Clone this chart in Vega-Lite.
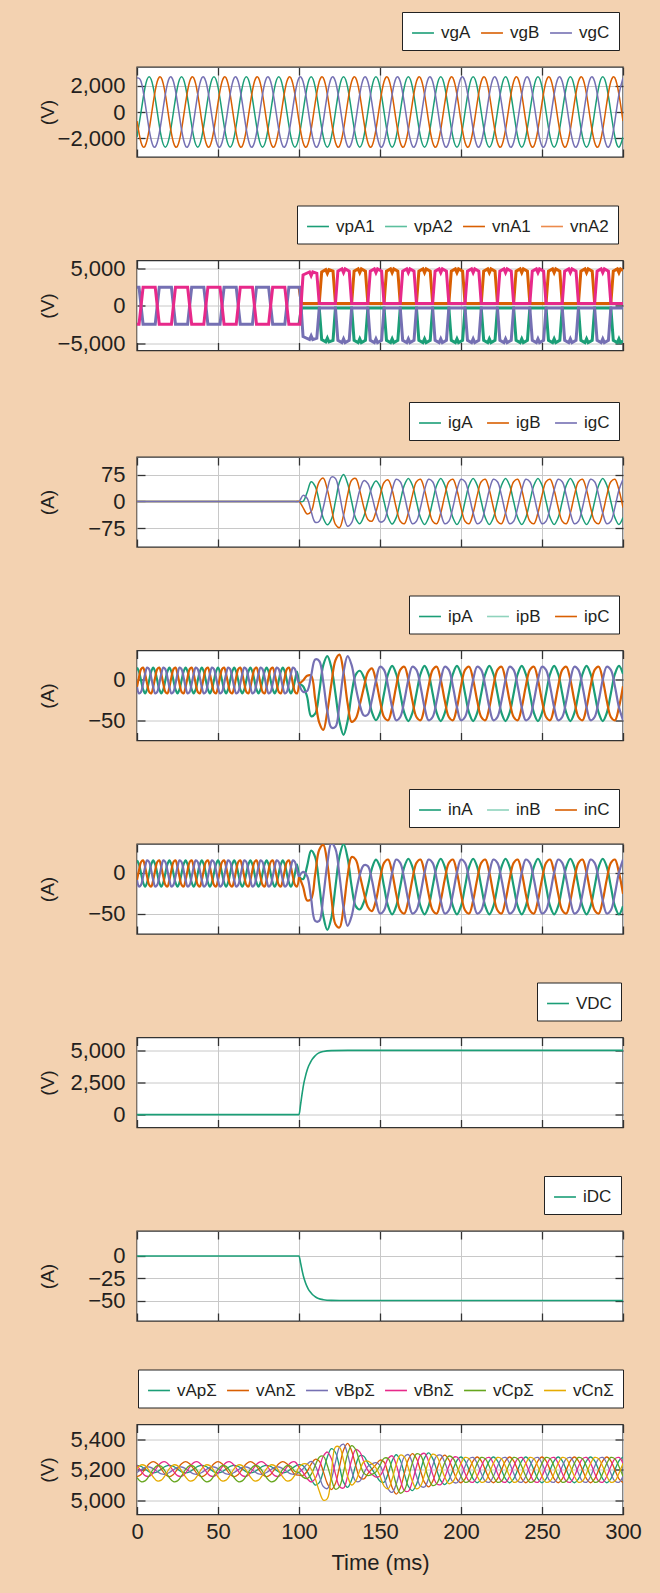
{
"$schema": "https://vega.github.io/schema/vega-lite/v6.json",
"background": "#F3D2B1",
"padding": {"left": 37, "top": 10, "right": 20, "bottom": 22},
"spacing": 44.5,
"resolve": {"scale": {"x": "independent", "y": "independent", "color": "independent"}, "legend": {"color": "independent"}},
"config": {
 "font": "Liberation Sans",
 "view": {"stroke": "#333333", "strokeWidth": 1.4, "fill": "#ffffff"},
 "axis": {"domain": false, "grid": true, "gridColor": "#c8c8c8", "gridWidth": 1, "ticks": true, "tickSize": -8, "tickColor": "#333333", "tickWidth": 1.3, "labelFont": "Liberation Sans", "labelFontSize": 22, "labelColor": "#231f20", "titleFont": "Liberation Sans", "titleFontSize": 19, "titleFontWeight": "normal", "titleColor": "#231f20", "labelFlush": false, "labelOverlap": false},
 "axisY": {"labelPadding": 20, "titleX": -90, "titleY": 45, "titleAngle": 270, "titleAlign": "center", "titleBaseline": "middle"},
 "axisX": {"labelPadding": 15, "titlePadding": 10},
 "legend": {"orient": "none", "direction": "horizontal", "columns": 6, "fillColor": "#ffffff", "strokeColor": "#222222", "padding": 9, "symbolType": "stroke", "symbolSize": 480, "symbolStrokeWidth": 1.6, "labelFont": "Liberation Sans", "labelFontSize": 17, "labelColor": "#231f20", "labelOffset": 6, "columnPadding": 6}
},
"datasets": {
 "pre": [
{"t":0,"a":15,"b":-9,"c":-9},{"t":1.25,"a":10,"b":3,"c":-17},{"t":2.5,"a":-1,"b":13,"c":-15},{"t":3.75,"a":-12,"b":15,"c":-5},{"t":5,"a":-17,"b":7,"c":7},{"t":6.25,"a":-12,"b":-5,"c":15},{"t":7.5,"a":-1,"b":-15,"c":13},{"t":8.75,"a":10,"b":-17,"c":3},
{"t":10,"a":15,"b":-9,"c":-9},{"t":11.25,"a":10,"b":3,"c":-17},{"t":12.5,"a":-1,"b":13,"c":-15},{"t":13.75,"a":-12,"b":15,"c":-5},{"t":15,"a":-17,"b":7,"c":7},{"t":16.25,"a":-12,"b":-5,"c":15},{"t":17.5,"a":-1,"b":-15,"c":13},{"t":18.75,"a":10,"b":-17,"c":3},
{"t":20,"a":15,"b":-9,"c":-9},{"t":21.25,"a":10,"b":3,"c":-17},{"t":22.5,"a":-1,"b":13,"c":-15},{"t":23.75,"a":-12,"b":15,"c":-5},{"t":25,"a":-17,"b":7,"c":7},{"t":26.25,"a":-12,"b":-5,"c":15},{"t":27.5,"a":-1,"b":-15,"c":13},{"t":28.75,"a":10,"b":-17,"c":3},
{"t":30,"a":15,"b":-9,"c":-9},{"t":31.25,"a":10,"b":3,"c":-17},{"t":32.5,"a":-1,"b":13,"c":-15},{"t":33.75,"a":-12,"b":15,"c":-5},{"t":35,"a":-17,"b":7,"c":7},{"t":36.25,"a":-12,"b":-5,"c":15},{"t":37.5,"a":-1,"b":-15,"c":13},{"t":38.75,"a":10,"b":-17,"c":3},
{"t":40,"a":15,"b":-9,"c":-9},{"t":41.25,"a":10,"b":3,"c":-17},{"t":42.5,"a":-1,"b":13,"c":-15},{"t":43.75,"a":-12,"b":15,"c":-5},{"t":45,"a":-17,"b":7,"c":7},{"t":46.25,"a":-12,"b":-5,"c":15},{"t":47.5,"a":-1,"b":-15,"c":13},{"t":48.75,"a":10,"b":-17,"c":3},
{"t":50,"a":15,"b":-9,"c":-9},{"t":51.25,"a":10,"b":3,"c":-17},{"t":52.5,"a":-1,"b":13,"c":-15},{"t":53.75,"a":-12,"b":15,"c":-5},{"t":55,"a":-17,"b":7,"c":7},{"t":56.25,"a":-12,"b":-5,"c":15},{"t":57.5,"a":-1,"b":-15,"c":13},{"t":58.75,"a":10,"b":-17,"c":3},
{"t":60,"a":15,"b":-9,"c":-9},{"t":61.25,"a":10,"b":3,"c":-17},{"t":62.5,"a":-1,"b":13,"c":-15},{"t":63.75,"a":-12,"b":15,"c":-5},{"t":65,"a":-17,"b":7,"c":7},{"t":66.25,"a":-12,"b":-5,"c":15},{"t":67.5,"a":-1,"b":-15,"c":13},{"t":68.75,"a":10,"b":-17,"c":3},
{"t":70,"a":15,"b":-9,"c":-9},{"t":71.25,"a":10,"b":3,"c":-17},{"t":72.5,"a":-1,"b":13,"c":-15},{"t":73.75,"a":-12,"b":15,"c":-5},{"t":75,"a":-17,"b":7,"c":7},{"t":76.25,"a":-12,"b":-5,"c":15},{"t":77.5,"a":-1,"b":-15,"c":13},{"t":78.75,"a":10,"b":-17,"c":3},
{"t":80,"a":15,"b":-9,"c":-9},{"t":81.25,"a":10,"b":3,"c":-17},{"t":82.5,"a":-1,"b":13,"c":-15},{"t":83.75,"a":-12,"b":15,"c":-5},{"t":85,"a":-17,"b":7,"c":7},{"t":86.25,"a":-12,"b":-5,"c":15},{"t":87.5,"a":-1,"b":-15,"c":13},{"t":88.75,"a":10,"b":-17,"c":3},
{"t":90,"a":15,"b":-9,"c":-9},{"t":91.25,"a":10,"b":3,"c":-17},{"t":92.5,"a":-1,"b":13,"c":-15},{"t":93.75,"a":-12,"b":15,"c":-5},{"t":95,"a":-17,"b":7,"c":7},{"t":96.25,"a":-12,"b":-5,"c":15},{"t":97.5,"a":-1,"b":-15,"c":13},{"t":98.75,"a":10,"b":-17,"c":3},
{"t":100,"a":-5,"b":-5,"c":-5}
 ]
},
"vconcat": [
{"width": 486, "height": 90, "resolve": {"axis": {"x": "independent", "y": "independent"}},
 "layer": [
  {"data": {"values": [
{"t":0,"a":-1909,"b":-699,"c":2608},{"t":2.5,"a":0,"b":-2338,"c":2338},{"t":5,"a":1909,"b":-2608,"c":699},{"t":7.5,"a":2700,"b":-1350,"c":-1350},{"t":10,"a":1909,"b":699,"c":-2608},{"t":12.5,"a":0,"b":2338,"c":-2338},{"t":15,"a":-1909,"b":2608,"c":-699},{"t":17.5,"a":-2700,"b":1350,"c":1350},
{"t":20,"a":-1909,"b":-699,"c":2608},{"t":22.5,"a":0,"b":-2338,"c":2338},{"t":25,"a":1909,"b":-2608,"c":699},{"t":27.5,"a":2700,"b":-1350,"c":-1350},{"t":30,"a":1909,"b":699,"c":-2608},{"t":32.5,"a":0,"b":2338,"c":-2338},{"t":35,"a":-1909,"b":2608,"c":-699},{"t":37.5,"a":-2700,"b":1350,"c":1350},
{"t":40,"a":-1909,"b":-699,"c":2608},{"t":42.5,"a":0,"b":-2338,"c":2338},{"t":45,"a":1909,"b":-2608,"c":699},{"t":47.5,"a":2700,"b":-1350,"c":-1350},{"t":50,"a":1909,"b":699,"c":-2608},{"t":52.5,"a":0,"b":2338,"c":-2338},{"t":55,"a":-1909,"b":2608,"c":-699},{"t":57.5,"a":-2700,"b":1350,"c":1350},
{"t":60,"a":-1909,"b":-699,"c":2608},{"t":62.5,"a":0,"b":-2338,"c":2338},{"t":65,"a":1909,"b":-2608,"c":699},{"t":67.5,"a":2700,"b":-1350,"c":-1350},{"t":70,"a":1909,"b":699,"c":-2608},{"t":72.5,"a":0,"b":2338,"c":-2338},{"t":75,"a":-1909,"b":2608,"c":-699},{"t":77.5,"a":-2700,"b":1350,"c":1350},
{"t":80,"a":-1909,"b":-699,"c":2608},{"t":82.5,"a":0,"b":-2338,"c":2338},{"t":85,"a":1909,"b":-2608,"c":699},{"t":87.5,"a":2700,"b":-1350,"c":-1350},{"t":90,"a":1909,"b":699,"c":-2608},{"t":92.5,"a":0,"b":2338,"c":-2338},{"t":95,"a":-1909,"b":2608,"c":-699},{"t":97.5,"a":-2700,"b":1350,"c":1350},
{"t":100,"a":-1909,"b":-699,"c":2608},{"t":102.5,"a":0,"b":-2338,"c":2338},{"t":105,"a":1909,"b":-2608,"c":699},{"t":107.5,"a":2700,"b":-1350,"c":-1350},{"t":110,"a":1909,"b":699,"c":-2608},{"t":112.5,"a":0,"b":2338,"c":-2338},{"t":115,"a":-1909,"b":2608,"c":-699},{"t":117.5,"a":-2700,"b":1350,"c":1350},
{"t":120,"a":-1909,"b":-699,"c":2608},{"t":122.5,"a":0,"b":-2338,"c":2338},{"t":125,"a":1909,"b":-2608,"c":699},{"t":127.5,"a":2700,"b":-1350,"c":-1350},{"t":130,"a":1909,"b":699,"c":-2608},{"t":132.5,"a":0,"b":2338,"c":-2338},{"t":135,"a":-1909,"b":2608,"c":-699},{"t":137.5,"a":-2700,"b":1350,"c":1350},
{"t":140,"a":-1909,"b":-699,"c":2608},{"t":142.5,"a":0,"b":-2338,"c":2338},{"t":145,"a":1909,"b":-2608,"c":699},{"t":147.5,"a":2700,"b":-1350,"c":-1350},{"t":150,"a":1909,"b":699,"c":-2608},{"t":152.5,"a":0,"b":2338,"c":-2338},{"t":155,"a":-1909,"b":2608,"c":-699},{"t":157.5,"a":-2700,"b":1350,"c":1350},
{"t":160,"a":-1909,"b":-699,"c":2608},{"t":162.5,"a":0,"b":-2338,"c":2338},{"t":165,"a":1909,"b":-2608,"c":699},{"t":167.5,"a":2700,"b":-1350,"c":-1350},{"t":170,"a":1909,"b":699,"c":-2608},{"t":172.5,"a":0,"b":2338,"c":-2338},{"t":175,"a":-1909,"b":2608,"c":-699},{"t":177.5,"a":-2700,"b":1350,"c":1350},
{"t":180,"a":-1909,"b":-699,"c":2608},{"t":182.5,"a":0,"b":-2338,"c":2338},{"t":185,"a":1909,"b":-2608,"c":699},{"t":187.5,"a":2700,"b":-1350,"c":-1350},{"t":190,"a":1909,"b":699,"c":-2608},{"t":192.5,"a":0,"b":2338,"c":-2338},{"t":195,"a":-1909,"b":2608,"c":-699},{"t":197.5,"a":-2700,"b":1350,"c":1350},
{"t":200,"a":-1909,"b":-699,"c":2608},{"t":202.5,"a":0,"b":-2338,"c":2338},{"t":205,"a":1909,"b":-2608,"c":699},{"t":207.5,"a":2700,"b":-1350,"c":-1350},{"t":210,"a":1909,"b":699,"c":-2608},{"t":212.5,"a":0,"b":2338,"c":-2338},{"t":215,"a":-1909,"b":2608,"c":-699},{"t":217.5,"a":-2700,"b":1350,"c":1350},
{"t":220,"a":-1909,"b":-699,"c":2608},{"t":222.5,"a":0,"b":-2338,"c":2338},{"t":225,"a":1909,"b":-2608,"c":699},{"t":227.5,"a":2700,"b":-1350,"c":-1350},{"t":230,"a":1909,"b":699,"c":-2608},{"t":232.5,"a":0,"b":2338,"c":-2338},{"t":235,"a":-1909,"b":2608,"c":-699},{"t":237.5,"a":-2700,"b":1350,"c":1350},
{"t":240,"a":-1909,"b":-699,"c":2608},{"t":242.5,"a":0,"b":-2338,"c":2338},{"t":245,"a":1909,"b":-2608,"c":699},{"t":247.5,"a":2700,"b":-1350,"c":-1350},{"t":250,"a":1909,"b":699,"c":-2608},{"t":252.5,"a":0,"b":2338,"c":-2338},{"t":255,"a":-1909,"b":2608,"c":-699},{"t":257.5,"a":-2700,"b":1350,"c":1350},
{"t":260,"a":-1909,"b":-699,"c":2608},{"t":262.5,"a":0,"b":-2338,"c":2338},{"t":265,"a":1909,"b":-2608,"c":699},{"t":267.5,"a":2700,"b":-1350,"c":-1350},{"t":270,"a":1909,"b":699,"c":-2608},{"t":272.5,"a":0,"b":2338,"c":-2338},{"t":275,"a":-1909,"b":2608,"c":-699},{"t":277.5,"a":-2700,"b":1350,"c":1350},
{"t":280,"a":-1909,"b":-699,"c":2608},{"t":282.5,"a":0,"b":-2338,"c":2338},{"t":285,"a":1909,"b":-2608,"c":699},{"t":287.5,"a":2700,"b":-1350,"c":-1350},{"t":290,"a":1909,"b":699,"c":-2608},{"t":292.5,"a":0,"b":2338,"c":-2338},{"t":295,"a":-1909,"b":2608,"c":-699},{"t":297.5,"a":-2700,"b":1350,"c":1350},
{"t":300,"a":-1909,"b":-699,"c":2608}
  ]},
   "transform": [{"fold": ["a", "b", "c"], "as": ["k", "v"]}],
   "mark": {"type": "line", "interpolate": "natural", "strokeWidth": 1.5, "clip": true},
   "encoding": {
    "x": {"field": "t", "type": "quantitative", "scale": {"domain": [0, 300], "nice": false}, "axis": {"values": [0, 50, 100, 150, 200, 250, 300], "labels": false, "title": null}},
    "y": {"field": "v", "type": "quantitative", "scale": {"domain": [-3450, 3450], "nice": false, "zero": false}, "axis": {"values": [-2000, 0, 2000], "format": ",d", "title": "(V)"}},
    "color": {"field": "k", "type": "nominal", "scale": {"domain": ["a", "b", "c"], "range": ["#1b9e77", "#d95f02", "#7570b3"]}, "legend": {"title": null, "legendX": 265, "legendY": -55, "labelExpr": "{'a':'vgA','b':'vgB','c':'vgC'}[datum.label]"}}
   }},
  {"data": {"values": [{"t": 150, "v": 0}]}, "mark": {"type": "point", "opacity": 0},
   "encoding": {
    "x": {"field": "t", "type": "quantitative", "scale": {"domain": [0, 300], "nice": false}, "axis": {"orient": "top", "values": [0, 50, 100, 150, 200, 250, 300], "labels": false, "grid": false, "title": null}},
    "y": {"field": "v", "type": "quantitative", "scale": {"domain": [-3450, 3450], "nice": false, "zero": false}, "axis": {"orient": "right", "values": [-2000, 0, 2000], "labels": false, "grid": false, "title": null}}
   }}
 ]},
{"width": 486, "height": 90, "resolve": {"axis": {"x": "independent", "y": "independent"}},
 "layer": [
  {"data": {"values": [
{"t":100,"c":2450,"a":-2450},{"t":101.5,"c":300,"a":-300},{"t":112.5,"c":300,"a":-300},
{"t":114,"c":4500,"a":-4500},{"t":116.5,"c":4800,"a":-4800},{"t":117.5,"c":4300,"a":-4300},{"t":118.5,"c":4800,"a":-4800},{"t":121,"c":4600,"a":-4600},{"t":122.5,"c":300,"a":-300},
{"t":132.5,"c":300,"a":-300},{"t":134,"c":4600,"a":-4600},{"t":136.5,"c":4900,"a":-4900},{"t":137.5,"c":4400,"a":-4400},{"t":138.5,"c":4900,"a":-4900},{"t":141,"c":4600,"a":-4600},{"t":142.5,"c":300,"a":-300},
{"t":152.5,"c":300,"a":-300},{"t":154,"c":4600,"a":-4600},{"t":156.5,"c":4900,"a":-4900},{"t":157.5,"c":4400,"a":-4400},{"t":158.5,"c":4900,"a":-4900},{"t":161,"c":4600,"a":-4600},{"t":162.5,"c":300,"a":-300},
{"t":172.5,"c":300,"a":-300},{"t":174,"c":4600,"a":-4600},{"t":176.5,"c":4900,"a":-4900},{"t":177.5,"c":4400,"a":-4400},{"t":178.5,"c":4900,"a":-4900},{"t":181,"c":4600,"a":-4600},{"t":182.5,"c":300,"a":-300},
{"t":192.5,"c":300,"a":-300},{"t":194,"c":4600,"a":-4600},{"t":196.5,"c":4900,"a":-4900},{"t":197.5,"c":4400,"a":-4400},{"t":198.5,"c":4900,"a":-4900},{"t":201,"c":4600,"a":-4600},{"t":202.5,"c":300,"a":-300},
{"t":212.5,"c":300,"a":-300},{"t":214,"c":4600,"a":-4600},{"t":216.5,"c":4900,"a":-4900},{"t":217.5,"c":4400,"a":-4400},{"t":218.5,"c":4900,"a":-4900},{"t":221,"c":4600,"a":-4600},{"t":222.5,"c":300,"a":-300},
{"t":232.5,"c":300,"a":-300},{"t":234,"c":4600,"a":-4600},{"t":236.5,"c":4900,"a":-4900},{"t":237.5,"c":4400,"a":-4400},{"t":238.5,"c":4900,"a":-4900},{"t":241,"c":4600,"a":-4600},{"t":242.5,"c":300,"a":-300},
{"t":252.5,"c":300,"a":-300},{"t":254,"c":4600,"a":-4600},{"t":256.5,"c":4900,"a":-4900},{"t":257.5,"c":4400,"a":-4400},{"t":258.5,"c":4900,"a":-4900},{"t":261,"c":4600,"a":-4600},{"t":262.5,"c":300,"a":-300},
{"t":272.5,"c":300,"a":-300},{"t":274,"c":4600,"a":-4600},{"t":276.5,"c":4900,"a":-4900},{"t":277.5,"c":4400,"a":-4400},{"t":278.5,"c":4900,"a":-4900},{"t":281,"c":4600,"a":-4600},{"t":282.5,"c":300,"a":-300},
{"t":292.5,"c":300,"a":-300},{"t":294,"c":4600,"a":-4600},{"t":296.5,"c":4900,"a":-4900},{"t":297.5,"c":4400,"a":-4400},{"t":298.5,"c":4900,"a":-4900},{"t":300,"c":4700,"a":-4700}
  ]},
   "transform": [{"fold": ["a", "c"], "as": ["k", "v"]}],
   "mark": {"type": "line", "strokeWidth": 3, "clip": true},
   "encoding": {
    "x": {"field": "t", "type": "quantitative", "scale": {"domain": [0, 300], "nice": false}, "axis": {"values": [0, 50, 100, 150, 200, 250, 300], "labels": false, "title": null}},
    "y": {"field": "v", "type": "quantitative", "scale": {"domain": [-5950, 6020], "nice": false, "zero": false}, "axis": {"values": [-5000, 0, 5000], "format": ",d", "title": "(V)"}},
    "color": {"field": "k", "type": "nominal", "scale": {"domain": ["a", "b", "c", "d", "e", "f"], "range": ["#1b9e77", "#5cbf9e", "#d95f02", "#ec8a4c", "#7570b3", "#e7298a"]}, "legend": {"title": null, "values": ["a", "b", "c", "d"], "legendX": 160, "legendY": -55, "symbolStrokeWidth": 1.6, "labelExpr": "{'a':'vpA1','b':'vpA2','c':'vnA1','d':'vnA2'}[datum.label]"}}
   }},
  {"data": {"values": [
{"t":0,"f":-2450,"e":2450},{"t":1.25,"f":-2450,"e":2450},{"t":3.75,"f":2450,"e":-2450},{"t":11.25,"f":2450,"e":-2450},{"t":13.75,"f":-2450,"e":2450},
{"t":21.25,"f":-2450,"e":2450},{"t":23.75,"f":2450,"e":-2450},{"t":31.25,"f":2450,"e":-2450},{"t":33.75,"f":-2450,"e":2450},
{"t":41.25,"f":-2450,"e":2450},{"t":43.75,"f":2450,"e":-2450},{"t":51.25,"f":2450,"e":-2450},{"t":53.75,"f":-2450,"e":2450},
{"t":61.25,"f":-2450,"e":2450},{"t":63.75,"f":2450,"e":-2450},{"t":71.25,"f":2450,"e":-2450},{"t":73.75,"f":-2450,"e":2450},
{"t":81.25,"f":-2450,"e":2450},{"t":83.75,"f":2450,"e":-2450},{"t":91.25,"f":2450,"e":-2450},{"t":93.75,"f":-2450,"e":2450},
{"t":100.5,"f":-2450,"e":2450},{"t":102.5,"f":4100,"e":-4100},{"t":106.5,"f":4500,"e":-4500},{"t":107.5,"f":4000,"e":-4000},{"t":108.5,"f":4500,"e":-4500},{"t":111,"f":4300,"e":-4300},{"t":112.5,"f":300,"e":-300},
{"t":122.5,"f":300,"e":-300},{"t":124,"f":4600,"e":-4600},{"t":126.5,"f":4900,"e":-4900},{"t":127.5,"f":4400,"e":-4400},{"t":128.5,"f":4900,"e":-4900},{"t":131,"f":4600,"e":-4600},{"t":132.5,"f":300,"e":-300},
{"t":142.5,"f":300,"e":-300},{"t":144,"f":4600,"e":-4600},{"t":146.5,"f":4900,"e":-4900},{"t":147.5,"f":4400,"e":-4400},{"t":148.5,"f":4900,"e":-4900},{"t":151,"f":4600,"e":-4600},{"t":152.5,"f":300,"e":-300},
{"t":162.5,"f":300,"e":-300},{"t":164,"f":4600,"e":-4600},{"t":166.5,"f":4900,"e":-4900},{"t":167.5,"f":4400,"e":-4400},{"t":168.5,"f":4900,"e":-4900},{"t":171,"f":4600,"e":-4600},{"t":172.5,"f":300,"e":-300},
{"t":182.5,"f":300,"e":-300},{"t":184,"f":4600,"e":-4600},{"t":186.5,"f":4900,"e":-4900},{"t":187.5,"f":4400,"e":-4400},{"t":188.5,"f":4900,"e":-4900},{"t":191,"f":4600,"e":-4600},{"t":192.5,"f":300,"e":-300},
{"t":202.5,"f":300,"e":-300},{"t":204,"f":4600,"e":-4600},{"t":206.5,"f":4900,"e":-4900},{"t":207.5,"f":4400,"e":-4400},{"t":208.5,"f":4900,"e":-4900},{"t":211,"f":4600,"e":-4600},{"t":212.5,"f":300,"e":-300},
{"t":222.5,"f":300,"e":-300},{"t":224,"f":4600,"e":-4600},{"t":226.5,"f":4900,"e":-4900},{"t":227.5,"f":4400,"e":-4400},{"t":228.5,"f":4900,"e":-4900},{"t":231,"f":4600,"e":-4600},{"t":232.5,"f":300,"e":-300},
{"t":242.5,"f":300,"e":-300},{"t":244,"f":4600,"e":-4600},{"t":246.5,"f":4900,"e":-4900},{"t":247.5,"f":4400,"e":-4400},{"t":248.5,"f":4900,"e":-4900},{"t":251,"f":4600,"e":-4600},{"t":252.5,"f":300,"e":-300},
{"t":262.5,"f":300,"e":-300},{"t":264,"f":4600,"e":-4600},{"t":266.5,"f":4900,"e":-4900},{"t":267.5,"f":4400,"e":-4400},{"t":268.5,"f":4900,"e":-4900},{"t":271,"f":4600,"e":-4600},{"t":272.5,"f":300,"e":-300},
{"t":282.5,"f":300,"e":-300},{"t":284,"f":4600,"e":-4600},{"t":286.5,"f":4900,"e":-4900},{"t":287.5,"f":4400,"e":-4400},{"t":288.5,"f":4900,"e":-4900},{"t":291,"f":4600,"e":-4600},{"t":292.5,"f":300,"e":-300},
{"t":300,"f":300,"e":-300}
  ]},
   "transform": [{"fold": ["e", "f"], "as": ["k", "v"]}],
   "mark": {"type": "line", "strokeWidth": 3, "clip": true},
   "encoding": {
    "x": {"field": "t", "type": "quantitative", "scale": {"domain": [0, 300], "nice": false}, "axis": null},
    "y": {"field": "v", "type": "quantitative", "scale": {"domain": [-5950, 6020], "nice": false, "zero": false}, "axis": null},
    "color": {"field": "k", "type": "nominal", "scale": {"domain": ["a", "b", "c", "d", "e", "f"], "range": ["#1b9e77", "#5cbf9e", "#d95f02", "#ec8a4c", "#7570b3", "#e7298a"]}, "legend": {"title": null, "values": ["a", "b", "c", "d"], "legendX": 160, "legendY": -55, "symbolStrokeWidth": 1.6, "labelExpr": "{'a':'vpA1','b':'vpA2','c':'vnA1','d':'vnA2'}[datum.label]"}}
   }},
  {"data": {"values": [{"t": 150, "v": 0}]}, "mark": {"type": "point", "opacity": 0},
   "encoding": {
    "x": {"field": "t", "type": "quantitative", "scale": {"domain": [0, 300], "nice": false}, "axis": {"orient": "top", "values": [0, 50, 100, 150, 200, 250, 300], "labels": false, "grid": false, "title": null}},
    "y": {"field": "v", "type": "quantitative", "scale": {"domain": [-5950, 6020], "nice": false, "zero": false}, "axis": {"orient": "right", "values": [-5000, 0, 5000], "labels": false, "grid": false, "title": null}}
   }}
 ]},
{"width": 486, "height": 90, "resolve": {"axis": {"x": "independent", "y": "independent"}},
 "layer": [
  {"data": {"values": [
{"t":0,"a":0,"b":0,"c":0},{"t":97.5,"a":0,"b":0,"c":0},{"t":100,"a":0,"b":0,"c":0},
{"t":102.5,"a":0,"b":-17,"c":17},{"t":105,"a":25,"b":-35,"c":9},{"t":107.5,"a":55,"b":-28,"c":-28},{"t":110,"a":42,"b":16,"c":-58},{"t":112.5,"a":0,"b":55,"c":-55},{"t":115,"a":-47,"b":65,"c":-17},{"t":117.5,"a":-65,"b":33,"c":33},
{"t":120,"a":-50,"b":-18,"c":68},{"t":122.5,"a":0,"b":-64,"c":64},{"t":125,"a":54,"b":-73,"c":20},{"t":127.5,"a":75,"b":-38,"c":-38},{"t":130,"a":50,"b":18,"c":-69},{"t":132.5,"a":0,"b":59,"c":-59},{"t":135,"a":-47,"b":64,"c":-17},{"t":137.5,"a":-62,"b":31,"c":31},
{"t":140,"a":-42,"b":-16,"c":58},{"t":142.5,"a":0,"b":-50,"c":50},{"t":145,"a":40,"b":-55,"c":15},{"t":147.5,"a":57,"b":-29,"c":-29},{"t":150,"a":42,"b":15,"c":-57},{"t":152.5,"a":0,"b":53,"c":-53},{"t":155,"a":-44,"b":60,"c":-16},{"t":157.5,"a":-63,"b":32,"c":32},
{"t":160,"a":-45,"b":-17,"c":62},{"t":162.5,"a":0,"b":-55,"c":55},{"t":165,"a":45,"b":-62,"c":17},{"t":167.5,"a":64,"b":-32,"c":-32},{"t":170,"a":45,"b":17,"c":-62},{"t":172.5,"a":0,"b":55,"c":-55},{"t":175,"a":-45,"b":62,"c":-17},{"t":177.5,"a":-64,"b":32,"c":32},
{"t":180,"a":-45,"b":-17,"c":62},{"t":182.5,"a":0,"b":-55,"c":55},{"t":185,"a":45,"b":-62,"c":17},{"t":187.5,"a":64,"b":-32,"c":-32},{"t":190,"a":45,"b":17,"c":-62},{"t":192.5,"a":0,"b":55,"c":-55},{"t":195,"a":-45,"b":62,"c":-17},{"t":197.5,"a":-64,"b":32,"c":32},
{"t":200,"a":-45,"b":-17,"c":62},{"t":202.5,"a":0,"b":-55,"c":55},{"t":205,"a":45,"b":-62,"c":17},{"t":207.5,"a":64,"b":-32,"c":-32},{"t":210,"a":45,"b":17,"c":-62},{"t":212.5,"a":0,"b":55,"c":-55},{"t":215,"a":-45,"b":62,"c":-17},{"t":217.5,"a":-64,"b":32,"c":32},
{"t":220,"a":-45,"b":-17,"c":62},{"t":222.5,"a":0,"b":-55,"c":55},{"t":225,"a":45,"b":-62,"c":17},{"t":227.5,"a":64,"b":-32,"c":-32},{"t":230,"a":45,"b":17,"c":-62},{"t":232.5,"a":0,"b":55,"c":-55},{"t":235,"a":-45,"b":62,"c":-17},{"t":237.5,"a":-64,"b":32,"c":32},
{"t":240,"a":-45,"b":-17,"c":62},{"t":242.5,"a":0,"b":-55,"c":55},{"t":245,"a":45,"b":-62,"c":17},{"t":247.5,"a":64,"b":-32,"c":-32},{"t":250,"a":45,"b":17,"c":-62},{"t":252.5,"a":0,"b":55,"c":-55},{"t":255,"a":-45,"b":62,"c":-17},{"t":257.5,"a":-64,"b":32,"c":32},
{"t":260,"a":-45,"b":-17,"c":62},{"t":262.5,"a":0,"b":-55,"c":55},{"t":265,"a":45,"b":-62,"c":17},{"t":267.5,"a":64,"b":-32,"c":-32},{"t":270,"a":45,"b":17,"c":-62},{"t":272.5,"a":0,"b":55,"c":-55},{"t":275,"a":-45,"b":62,"c":-17},{"t":277.5,"a":-64,"b":32,"c":32},
{"t":280,"a":-45,"b":-17,"c":62},{"t":282.5,"a":0,"b":-55,"c":55},{"t":285,"a":45,"b":-62,"c":17},{"t":287.5,"a":64,"b":-32,"c":-32},{"t":290,"a":45,"b":17,"c":-62},{"t":292.5,"a":0,"b":55,"c":-55},{"t":295,"a":-45,"b":62,"c":-17},{"t":297.5,"a":-64,"b":32,"c":32},
{"t":300,"a":-45,"b":-17,"c":62}
  ]},
   "transform": [{"fold": ["a", "b", "c"], "as": ["k", "v"]}],
   "mark": {"type": "line", "interpolate": "catmull-rom", "strokeWidth": 1.5, "clip": true},
   "encoding": {
    "x": {"field": "t", "type": "quantitative", "scale": {"domain": [0, 300], "nice": false}, "axis": {"values": [0, 50, 100, 150, 200, 250, 300], "labels": false, "title": null}},
    "y": {"field": "v", "type": "quantitative", "scale": {"domain": [-127, 124], "nice": false, "zero": false}, "axis": {"values": [-75, 0, 75], "format": ",d", "title": "(A)"}},
    "color": {"field": "k", "type": "nominal", "scale": {"domain": ["a", "b", "c"], "range": ["#1b9e77", "#d95f02", "#7570b3"]}, "legend": {"title": null, "legendX": 272, "legendY": -55, "columnPadding": 10, "labelExpr": "{'a':'igA','b':'igB','c':'igC'}[datum.label]"}}
   }},
  {"data": {"values": [{"t": 150, "v": 0}]}, "mark": {"type": "point", "opacity": 0},
   "encoding": {
    "x": {"field": "t", "type": "quantitative", "scale": {"domain": [0, 300], "nice": false}, "axis": {"orient": "top", "values": [0, 50, 100, 150, 200, 250, 300], "labels": false, "grid": false, "title": null}},
    "y": {"field": "v", "type": "quantitative", "scale": {"domain": [-127, 124], "nice": false, "zero": false}, "axis": {"orient": "right", "values": [-75, 0, 75], "labels": false, "grid": false, "title": null}}
   }}
 ]},
{"width": 486, "height": 90, "resolve": {"axis": {"x": "independent", "y": "independent"}},
 "layer": [
  {"data": {"name": "pre"},
   "transform": [{"fold": ["a", "b", "c"], "as": ["k", "v"]}],
   "mark": {"type": "line", "interpolate": "catmull-rom", "strokeWidth": 2.2, "clip": true},
   "encoding": {
    "x": {"field": "t", "type": "quantitative", "scale": {"domain": [0, 300], "nice": false}, "axis": {"values": [0, 50, 100, 150, 200, 250, 300], "labels": false, "title": null}},
    "y": {"field": "v", "type": "quantitative", "scale": {"domain": [-75, 36], "nice": false, "zero": false}, "axis": {"values": [-50, 0], "format": ",d", "title": "(A)"}},
    "color": {"field": "k", "type": "nominal", "scale": {"domain": ["a", "z", "b", "c"], "range": ["#1b9e77", "#8fd3bd", "#d95f02", "#7570b3"]}, "legend": {"title": null, "values": ["a", "z", "b"], "legendX": 272, "legendY": -55, "columnPadding": 10, "symbolStrokeWidth": 1.6, "labelExpr": "{'a':'ipA','z':'ipB','b':'ipC'}[datum.label]"}}
   }},
  {"data": {"values": [
{"t":100,"a":-5,"b":-5,"c":-5},{"t":102.5,"a":-8,"b":-1,"c":-15},{"t":105,"a":-21,"b":5,"c":-14},{"t":107.5,"a":-45,"b":5,"c":5},{"t":110,"a":-42,"b":-24,"c":25},{"t":112.5,"a":-15,"b":-53,"c":23},{"t":115,"a":18,"b":-62,"c":-3},{"t":117.5,"a":29,"b":-39,"c":-39},
{"t":120,"a":15,"b":-5,"c":-59},{"t":122.5,"a":-17,"b":24,"c":-58},{"t":125,"a":-52,"b":31,"c":-30},{"t":127.5,"a":-68,"b":9,"c":9},{"t":130,"a":-51,"b":-29,"c":29},{"t":132.5,"a":-17,"b":-52,"c":18},{"t":135,"a":6,"b":-48,"c":-9},{"t":137.5,"a":11,"b":-31,"c":-31},
{"t":140,"a":3,"b":-10,"c":-44},{"t":142.5,"a":-17,"b":9,"c":-43},{"t":145,"a":-40,"b":14,"c":-25},{"t":147.5,"a":-50,"b":-1,"c":-1},{"t":150,"a":-41,"b":-26,"c":16},{"t":152.5,"a":-17,"b":-46,"c":12},{"t":155,"a":7,"b":-50,"c":-8},{"t":157.5,"a":17,"b":-34,"c":-34},
{"t":160,"a":7,"b":-8,"c":-50},{"t":162.5,"a":-17,"b":12,"c":-46},{"t":165,"a":-41,"b":16,"c":-26},{"t":167.5,"a":-51,"b":0,"c":0},{"t":170,"a":-41,"b":-26,"c":16},{"t":172.5,"a":-17,"b":-46,"c":12},{"t":175,"a":7,"b":-50,"c":-8},{"t":177.5,"a":17,"b":-34,"c":-34},
{"t":180,"a":7,"b":-8,"c":-50},{"t":182.5,"a":-17,"b":12,"c":-46},{"t":185,"a":-41,"b":16,"c":-26},{"t":187.5,"a":-51,"b":0,"c":0},{"t":190,"a":-41,"b":-26,"c":16},{"t":192.5,"a":-17,"b":-46,"c":12},{"t":195,"a":7,"b":-50,"c":-8},{"t":197.5,"a":17,"b":-34,"c":-34},
{"t":200,"a":7,"b":-8,"c":-50},{"t":202.5,"a":-17,"b":12,"c":-46},{"t":205,"a":-41,"b":16,"c":-26},{"t":207.5,"a":-51,"b":0,"c":0},{"t":210,"a":-41,"b":-26,"c":16},{"t":212.5,"a":-17,"b":-46,"c":12},{"t":215,"a":7,"b":-50,"c":-8},{"t":217.5,"a":17,"b":-34,"c":-34},
{"t":220,"a":7,"b":-8,"c":-50},{"t":222.5,"a":-17,"b":12,"c":-46},{"t":225,"a":-41,"b":16,"c":-26},{"t":227.5,"a":-51,"b":0,"c":0},{"t":230,"a":-41,"b":-26,"c":16},{"t":232.5,"a":-17,"b":-46,"c":12},{"t":235,"a":7,"b":-50,"c":-8},{"t":237.5,"a":17,"b":-34,"c":-34},
{"t":240,"a":7,"b":-8,"c":-50},{"t":242.5,"a":-17,"b":12,"c":-46},{"t":245,"a":-41,"b":16,"c":-26},{"t":247.5,"a":-51,"b":0,"c":0},{"t":250,"a":-41,"b":-26,"c":16},{"t":252.5,"a":-17,"b":-46,"c":12},{"t":255,"a":7,"b":-50,"c":-8},{"t":257.5,"a":17,"b":-34,"c":-34},
{"t":260,"a":7,"b":-8,"c":-50},{"t":262.5,"a":-17,"b":12,"c":-46},{"t":265,"a":-41,"b":16,"c":-26},{"t":267.5,"a":-51,"b":0,"c":0},{"t":270,"a":-41,"b":-26,"c":16},{"t":272.5,"a":-17,"b":-46,"c":12},{"t":275,"a":7,"b":-50,"c":-8},{"t":277.5,"a":17,"b":-34,"c":-34},
{"t":280,"a":7,"b":-8,"c":-50},{"t":282.5,"a":-17,"b":12,"c":-46},{"t":285,"a":-41,"b":16,"c":-26},{"t":287.5,"a":-51,"b":0,"c":0},{"t":290,"a":-41,"b":-26,"c":16},{"t":292.5,"a":-17,"b":-46,"c":12},{"t":295,"a":7,"b":-50,"c":-8},{"t":297.5,"a":17,"b":-34,"c":-34},
{"t":300,"a":7,"b":-8,"c":-50}
  ]},
   "transform": [{"fold": ["a", "b", "c"], "as": ["k", "v"]}],
   "mark": {"type": "line", "interpolate": "catmull-rom", "strokeWidth": 2.2, "clip": true},
   "encoding": {
    "x": {"field": "t", "type": "quantitative", "scale": {"domain": [0, 300], "nice": false}, "axis": null},
    "y": {"field": "v", "type": "quantitative", "scale": {"domain": [-75, 36], "nice": false, "zero": false}, "axis": null},
    "color": {"field": "k", "type": "nominal", "scale": {"domain": ["a", "z", "b", "c"], "range": ["#1b9e77", "#8fd3bd", "#d95f02", "#7570b3"]}, "legend": {"title": null, "values": ["a", "z", "b"], "legendX": 272, "legendY": -55, "columnPadding": 10, "symbolStrokeWidth": 1.6, "labelExpr": "{'a':'ipA','z':'ipB','b':'ipC'}[datum.label]"}}
   }},
  {"data": {"values": [{"t": 150, "v": -20}]}, "mark": {"type": "point", "opacity": 0},
   "encoding": {
    "x": {"field": "t", "type": "quantitative", "scale": {"domain": [0, 300], "nice": false}, "axis": {"orient": "top", "values": [0, 50, 100, 150, 200, 250, 300], "labels": false, "grid": false, "title": null}},
    "y": {"field": "v", "type": "quantitative", "scale": {"domain": [-75, 36], "nice": false, "zero": false}, "axis": {"orient": "right", "values": [-50, 0], "labels": false, "grid": false, "title": null}}
   }}
 ]},
{"width": 486, "height": 90, "resolve": {"axis": {"x": "independent", "y": "independent"}},
 "layer": [
  {"data": {"name": "pre"},
   "transform": [{"fold": ["a", "b", "c"], "as": ["k", "v"]}],
   "mark": {"type": "line", "interpolate": "catmull-rom", "strokeWidth": 2.2, "clip": true},
   "encoding": {
    "x": {"field": "t", "type": "quantitative", "scale": {"domain": [0, 300], "nice": false}, "axis": {"values": [0, 50, 100, 150, 200, 250, 300], "labels": false, "title": null}},
    "y": {"field": "v", "type": "quantitative", "scale": {"domain": [-75, 35], "nice": false, "zero": false}, "axis": {"values": [-50, 0], "format": ",d", "title": "(A)"}},
    "color": {"field": "k", "type": "nominal", "scale": {"domain": ["a", "z", "b", "c"], "range": ["#1b9e77", "#8fd3bd", "#d95f02", "#7570b3"]}, "legend": {"title": null, "values": ["a", "z", "b"], "legendX": 272, "legendY": -55, "columnPadding": 10, "symbolStrokeWidth": 1.6, "labelExpr": "{'a':'inA','z':'inB','b':'inC'}[datum.label]"}}
   }},
  {"data": {"values": [
{"t":100,"a":-5,"b":-5,"c":-5},{"t":102.5,"a":-8,"b":-17,"c":1},{"t":105,"a":8,"b":-34,"c":-4},{"t":107.5,"a":27,"b":-32,"c":-32},{"t":110,"a":19,"b":-2,"c":-59},{"t":112.5,"a":-15,"b":28,"c":-59},{"t":115,"a":-53,"b":34,"c":-29},{"t":117.5,"a":-70,"b":11,"c":11},
{"t":120,"a":-55,"b":-31,"c":36},{"t":122.5,"a":-17,"b":-63,"c":29},{"t":125,"a":20,"b":-67,"c":-4},{"t":127.5,"a":35,"b":-43,"c":-43},{"t":130,"a":18,"b":-4,"c":-65},{"t":132.5,"a":-17,"b":19,"c":-53},{"t":135,"a":-41,"b":16,"c":-26},{"t":137.5,"a":-45,"b":-3,"c":-3},
{"t":140,"a":-36,"b":-24,"c":9},{"t":142.5,"a":-17,"b":-42,"c":8},{"t":145,"a":5,"b":-47,"c":-9},{"t":147.5,"a":16,"b":-34,"c":-34},{"t":150,"a":7,"b":-8,"c":-50},{"t":152.5,"a":-17,"b":12,"c":-46},{"t":155,"a":-41,"b":16,"c":-26},{"t":157.5,"a":-51,"b":0,"c":0},
{"t":160,"a":-41,"b":-26,"c":16},{"t":162.5,"a":-17,"b":-46,"c":12},{"t":165,"a":7,"b":-50,"c":-8},{"t":167.5,"a":17,"b":-34,"c":-34},{"t":170,"a":7,"b":-8,"c":-50},{"t":172.5,"a":-17,"b":12,"c":-46},{"t":175,"a":-41,"b":16,"c":-26},{"t":177.5,"a":-51,"b":0,"c":0},
{"t":180,"a":-41,"b":-26,"c":16},{"t":182.5,"a":-17,"b":-46,"c":12},{"t":185,"a":7,"b":-50,"c":-8},{"t":187.5,"a":17,"b":-34,"c":-34},{"t":190,"a":7,"b":-8,"c":-50},{"t":192.5,"a":-17,"b":12,"c":-46},{"t":195,"a":-41,"b":16,"c":-26},{"t":197.5,"a":-51,"b":0,"c":0},
{"t":200,"a":-41,"b":-26,"c":16},{"t":202.5,"a":-17,"b":-46,"c":12},{"t":205,"a":7,"b":-50,"c":-8},{"t":207.5,"a":17,"b":-34,"c":-34},{"t":210,"a":7,"b":-8,"c":-50},{"t":212.5,"a":-17,"b":12,"c":-46},{"t":215,"a":-41,"b":16,"c":-26},{"t":217.5,"a":-51,"b":0,"c":0},
{"t":220,"a":-41,"b":-26,"c":16},{"t":222.5,"a":-17,"b":-46,"c":12},{"t":225,"a":7,"b":-50,"c":-8},{"t":227.5,"a":17,"b":-34,"c":-34},{"t":230,"a":7,"b":-8,"c":-50},{"t":232.5,"a":-17,"b":12,"c":-46},{"t":235,"a":-41,"b":16,"c":-26},{"t":237.5,"a":-51,"b":0,"c":0},
{"t":240,"a":-41,"b":-26,"c":16},{"t":242.5,"a":-17,"b":-46,"c":12},{"t":245,"a":7,"b":-50,"c":-8},{"t":247.5,"a":17,"b":-34,"c":-34},{"t":250,"a":7,"b":-8,"c":-50},{"t":252.5,"a":-17,"b":12,"c":-46},{"t":255,"a":-41,"b":16,"c":-26},{"t":257.5,"a":-51,"b":0,"c":0},
{"t":260,"a":-41,"b":-26,"c":16},{"t":262.5,"a":-17,"b":-46,"c":12},{"t":265,"a":7,"b":-50,"c":-8},{"t":267.5,"a":17,"b":-34,"c":-34},{"t":270,"a":7,"b":-8,"c":-50},{"t":272.5,"a":-17,"b":12,"c":-46},{"t":275,"a":-41,"b":16,"c":-26},{"t":277.5,"a":-51,"b":0,"c":0},
{"t":280,"a":-41,"b":-26,"c":16},{"t":282.5,"a":-17,"b":-46,"c":12},{"t":285,"a":7,"b":-50,"c":-8},{"t":287.5,"a":17,"b":-34,"c":-34},{"t":290,"a":7,"b":-8,"c":-50},{"t":292.5,"a":-17,"b":12,"c":-46},{"t":295,"a":-41,"b":16,"c":-26},{"t":297.5,"a":-51,"b":0,"c":0},
{"t":300,"a":-41,"b":-26,"c":16}
  ]},
   "transform": [{"fold": ["a", "b", "c"], "as": ["k", "v"]}],
   "mark": {"type": "line", "interpolate": "catmull-rom", "strokeWidth": 2.2, "clip": true},
   "encoding": {
    "x": {"field": "t", "type": "quantitative", "scale": {"domain": [0, 300], "nice": false}, "axis": null},
    "y": {"field": "v", "type": "quantitative", "scale": {"domain": [-75, 35], "nice": false, "zero": false}, "axis": null},
    "color": {"field": "k", "type": "nominal", "scale": {"domain": ["a", "z", "b", "c"], "range": ["#1b9e77", "#8fd3bd", "#d95f02", "#7570b3"]}, "legend": {"title": null, "values": ["a", "z", "b"], "legendX": 272, "legendY": -55, "columnPadding": 10, "symbolStrokeWidth": 1.6, "labelExpr": "{'a':'inA','z':'inB','b':'inC'}[datum.label]"}}
   }},
  {"data": {"values": [{"t": 150, "v": -20}]}, "mark": {"type": "point", "opacity": 0},
   "encoding": {
    "x": {"field": "t", "type": "quantitative", "scale": {"domain": [0, 300], "nice": false}, "axis": {"orient": "top", "values": [0, 50, 100, 150, 200, 250, 300], "labels": false, "grid": false, "title": null}},
    "y": {"field": "v", "type": "quantitative", "scale": {"domain": [-75, 35], "nice": false, "zero": false}, "axis": {"orient": "right", "values": [-50, 0], "labels": false, "grid": false, "title": null}}
   }}
 ]},
{"width": 486, "height": 90, "resolve": {"axis": {"x": "independent", "y": "independent"}},
 "layer": [
  {"data": {"values": [
{"t":0,"d":0},{"t":100,"d":0},{"t":101,"d":800},{"t":102,"d":1700},{"t":103,"d":2450},{"t":104,"d":3000},{"t":105,"d":3450},{"t":106,"d":3800},{"t":107,"d":4050},{"t":108,"d":4280},{"t":110,"d":4580},{"t":112,"d":4780},{"t":115,"d":4910},{"t":120,"d":4980},{"t":130,"d":5000},{"t":300,"d":5000}
  ]},
   "transform": [{"fold": ["d"], "as": ["k", "v"]}],
   "mark": {"type": "line", "interpolate": "monotone", "strokeWidth": 1.6, "clip": true},
   "encoding": {
    "x": {"field": "t", "type": "quantitative", "scale": {"domain": [0, 300], "nice": false}, "axis": {"values": [0, 50, 100, 150, 200, 250, 300], "labels": false, "title": null}},
    "y": {"field": "v", "type": "quantitative", "scale": {"domain": [-1000, 6000], "nice": false, "zero": false}, "axis": {"values": [0, 2500, 5000], "format": ",d", "title": "(V)"}},
    "color": {"field": "k", "type": "nominal", "scale": {"domain": ["d"], "range": ["#1b9e77"]}, "legend": {"title": null, "legendX": 400, "legendY": -55, "labelExpr": "'VDC'"}}
   }},
  {"data": {"values": [{"t": 150, "v": 2500}]}, "mark": {"type": "point", "opacity": 0},
   "encoding": {
    "x": {"field": "t", "type": "quantitative", "scale": {"domain": [0, 300], "nice": false}, "axis": {"orient": "top", "values": [0, 50, 100, 150, 200, 250, 300], "labels": false, "grid": false, "title": null}},
    "y": {"field": "v", "type": "quantitative", "scale": {"domain": [-1000, 6000], "nice": false, "zero": false}, "axis": {"orient": "right", "values": [0, 2500, 5000], "labels": false, "grid": false, "title": null}}
   }}
 ]},
{"width": 486, "height": 90, "resolve": {"axis": {"x": "independent", "y": "independent"}},
 "layer": [
  {"data": {"values": [
{"t":0,"d":0},{"t":100,"d":0},{"t":101,"d":-8},{"t":102,"d":-17},{"t":103,"d":-24.5},{"t":104,"d":-30},{"t":105,"d":-34.5},{"t":106,"d":-38},{"t":107,"d":-40.5},{"t":108,"d":-42.8},{"t":110,"d":-45.8},{"t":112,"d":-47.8},{"t":115,"d":-49.1},{"t":120,"d":-49.8},{"t":130,"d":-50},{"t":300,"d":-50}
  ]},
   "transform": [{"fold": ["d"], "as": ["k", "v"]}],
   "mark": {"type": "line", "interpolate": "monotone", "strokeWidth": 1.6, "clip": true},
   "encoding": {
    "x": {"field": "t", "type": "quantitative", "scale": {"domain": [0, 300], "nice": false}, "axis": {"values": [0, 50, 100, 150, 200, 250, 300], "labels": false, "title": null}},
    "y": {"field": "v", "type": "quantitative", "scale": {"domain": [-73, 28], "nice": false, "zero": false}, "axis": {"values": [-50, -25, 0], "format": ",d", "title": "(A)"}},
    "color": {"field": "k", "type": "nominal", "scale": {"domain": ["d"], "range": ["#1b9e77"]}, "legend": {"title": null, "legendX": 407, "legendY": -55, "labelExpr": "'iDC'"}}
   }},
  {"data": {"values": [{"t": 150, "v": -25}]}, "mark": {"type": "point", "opacity": 0},
   "encoding": {
    "x": {"field": "t", "type": "quantitative", "scale": {"domain": [0, 300], "nice": false}, "axis": {"orient": "top", "values": [0, 50, 100, 150, 200, 250, 300], "labels": false, "grid": false, "title": null}},
    "y": {"field": "v", "type": "quantitative", "scale": {"domain": [-73, 28], "nice": false, "zero": false}, "axis": {"orient": "right", "values": [-50, -25, 0], "labels": false, "grid": false, "title": null}}
   }}
 ]},
{"width": 486, "height": 90, "resolve": {"axis": {"x": "independent", "y": "independent"}},
 "layer": [
  {"data": {"values": [
{"t":0,"a":5230,"b":5155,"c":5183,"d":5230,"e":5148,"f":5208},{"t":2.5,"a":5223,"b":5170,"c":5201,"d":5192,"e":5122,"f":5233},{"t":5,"a":5205,"b":5205,"c":5217,"d":5162,"e":5127,"f":5228},{"t":7.5,"a":5187,"b":5240,"c":5219,"d":5157,"e":5161,"f":5194},{"t":10,"a":5180,"b":5255,"c":5208,"d":5180,"e":5203,"f":5153},{"t":12.5,"a":5187,"b":5240,"c":5189,"d":5218,"e":5228,"f":5127},{"t":15,"a":5205,"b":5205,"c":5173,"d":5248,"e":5223,"f":5132},{"t":17.5,"a":5223,"b":5170,"c":5171,"d":5253,"e":5189,"f":5166},
{"t":20,"a":5230,"b":5155,"c":5183,"d":5230,"e":5148,"f":5208},{"t":22.5,"a":5223,"b":5170,"c":5201,"d":5192,"e":5122,"f":5233},{"t":25,"a":5205,"b":5205,"c":5217,"d":5162,"e":5127,"f":5228},{"t":27.5,"a":5187,"b":5240,"c":5219,"d":5157,"e":5161,"f":5194},{"t":30,"a":5180,"b":5255,"c":5208,"d":5180,"e":5203,"f":5153},{"t":32.5,"a":5187,"b":5240,"c":5189,"d":5218,"e":5228,"f":5127},{"t":35,"a":5205,"b":5205,"c":5173,"d":5248,"e":5223,"f":5132},{"t":37.5,"a":5223,"b":5170,"c":5171,"d":5253,"e":5189,"f":5166},
{"t":40,"a":5230,"b":5155,"c":5183,"d":5230,"e":5148,"f":5208},{"t":42.5,"a":5223,"b":5170,"c":5201,"d":5192,"e":5122,"f":5233},{"t":45,"a":5205,"b":5205,"c":5217,"d":5162,"e":5127,"f":5228},{"t":47.5,"a":5187,"b":5240,"c":5219,"d":5157,"e":5161,"f":5194},{"t":50,"a":5180,"b":5255,"c":5208,"d":5180,"e":5203,"f":5153},{"t":52.5,"a":5187,"b":5240,"c":5189,"d":5218,"e":5228,"f":5127},{"t":55,"a":5205,"b":5205,"c":5173,"d":5248,"e":5223,"f":5132},{"t":57.5,"a":5223,"b":5170,"c":5171,"d":5253,"e":5189,"f":5166},
{"t":60,"a":5230,"b":5155,"c":5183,"d":5230,"e":5148,"f":5208},{"t":62.5,"a":5223,"b":5170,"c":5201,"d":5192,"e":5122,"f":5233},{"t":65,"a":5205,"b":5205,"c":5217,"d":5162,"e":5127,"f":5228},{"t":67.5,"a":5187,"b":5240,"c":5219,"d":5157,"e":5161,"f":5194},{"t":70,"a":5180,"b":5255,"c":5208,"d":5180,"e":5203,"f":5153},{"t":72.5,"a":5187,"b":5240,"c":5189,"d":5218,"e":5228,"f":5127},{"t":75,"a":5205,"b":5205,"c":5173,"d":5248,"e":5223,"f":5132},{"t":77.5,"a":5223,"b":5170,"c":5171,"d":5253,"e":5189,"f":5166},
{"t":80,"a":5230,"b":5155,"c":5183,"d":5230,"e":5148,"f":5208},{"t":82.5,"a":5223,"b":5170,"c":5201,"d":5192,"e":5122,"f":5233},{"t":85,"a":5205,"b":5205,"c":5217,"d":5162,"e":5127,"f":5228},{"t":87.5,"a":5187,"b":5240,"c":5219,"d":5157,"e":5161,"f":5194},{"t":90,"a":5180,"b":5255,"c":5208,"d":5180,"e":5203,"f":5153},{"t":92.5,"a":5187,"b":5240,"c":5189,"d":5218,"e":5228,"f":5127},{"t":95,"a":5205,"b":5205,"c":5173,"d":5248,"e":5223,"f":5132},{"t":97.5,"a":5223,"b":5170,"c":5171,"d":5253,"e":5189,"f":5166},
{"t":100,"a":5235,"b":5165,"c":5183,"d":5218,"e":5183,"f":5218},{"t":102.5,"a":5227,"b":5163,"c":5207,"d":5183,"e":5152,"f":5239},{"t":105,"a":5190,"b":5190,"c":5238,"d":5142,"e":5142,"f":5238},{"t":107.5,"a":5139,"b":5238,"c":5256,"d":5120,"e":5170,"f":5206},{"t":110,"a":5100,"b":5270,"c":5228,"d":5143,"e":5228,"f":5143},{"t":112.5,"a":5116,"b":5258,"c":5161,"d":5213,"e":5284,"f":5060},{"t":115,"a":5190,"b":5190,"c":5090,"d":5290,"e":5290,"f":5000},{"t":117.5,"a":5285,"b":5109,"c":5076,"d":5318,"e":5229,"f":5010},
{"t":120,"a":5340,"b":5070,"c":5138,"d":5273,"e":5138,"f":5180},{"t":122.5,"a":5315,"b":5110,"c":5250,"d":5174,"e":5072,"f":5352},{"t":125,"a":5220,"b":5220,"c":5350,"d":5090,"e":5090,"f":5350},{"t":127.5,"a":5119,"b":5331,"c":5370,"d":5080,"e":5186,"f":5264},{"t":130,"a":5085,"b":5375,"c":5303,"d":5158,"e":5303,"f":5158},{"t":132.5,"a":5135,"b":5325,"c":5195,"d":5265,"e":5360,"f":5100},{"t":135,"a":5230,"b":5230,"c":5126,"d":5334,"e":5334,"f":5126},{"t":137.5,"a":5293,"b":5151,"c":5125,"d":5319,"e":5248,"f":5196},
{"t":140,"a":5290,"b":5140,"c":5178,"d":5253,"e":5178,"f":5253},{"t":142.5,"a":5245,"b":5175,"c":5223,"d":5197,"e":5162,"f":5258},{"t":145,"a":5205,"b":5205,"c":5240,"d":5170,"e":5170,"f":5240},{"t":147.5,"a":5165,"b":5235,"c":5248,"d":5152,"e":5187,"f":5213},{"t":150,"a":5125,"b":5265,"c":5230,"d":5160,"e":5230,"f":5160},{"t":152.5,"a":5118,"b":5252,"c":5160,"d":5210,"e":5277,"f":5093},{"t":155,"a":5175,"b":5175,"c":5075,"d":5275,"e":5275,"f":5075},{"t":157.5,"a":5260,"b":5084,"c":5051,"d":5293,"e":5204,"f":5140},
{"t":160,"a":5300,"b":5040,"c":5105,"d":5235,"e":5105,"f":5235},{"t":162.5,"a":5264,"b":5080,"c":5206,"d":5138,"e":5046,"f":5298},{"t":165,"a":5175,"b":5175,"c":5286,"d":5064,"e":5064,"f":5286},{"t":167.5,"a":5092,"b":5268,"c":5301,"d":5059,"e":5148,"f":5212},{"t":170,"a":5063,"b":5307,"c":5246,"d":5124,"e":5246,"f":5124},{"t":172.5,"a":5105,"b":5275,"c":5159,"d":5221,"e":5306,"f":5074},{"t":175,"a":5195,"b":5195,"c":5093,"d":5297,"e":5297,"f":5093},{"t":177.5,"a":5279,"b":5117,"c":5087,"d":5309,"e":5228,"f":5168},
{"t":180,"a":5312,"b":5088,"c":5144,"d":5256,"e":5144,"f":5256},{"t":182.5,"a":5276,"b":5124,"c":5228,"d":5172,"e":5096,"f":5304},{"t":185,"a":5200,"b":5200,"c":5291,"d":5109,"e":5109,"f":5291},{"t":187.5,"a":5129,"b":5271,"c":5297,"d":5103,"e":5174,"f":5226},{"t":190,"a":5103,"b":5297,"c":5249,"d":5152,"e":5249,"f":5152},{"t":192.5,"a":5134,"b":5267,"c":5176,"d":5224,"e":5291,"f":5109},{"t":195,"a":5200,"b":5200,"c":5121,"d":5279,"e":5279,"f":5121},{"t":197.5,"a":5262,"b":5138,"c":5115,"d":5285,"e":5223,"f":5177},
{"t":200,"a":5285,"b":5115,"c":5158,"d":5243,"e":5158,"f":5243},{"t":202.5,"a":5260,"b":5140,"c":5222,"d":5178,"e":5118,"f":5282},{"t":205,"a":5200,"b":5200,"c":5274,"d":5126,"e":5126,"f":5274},{"t":207.5,"a":5140,"b":5260,"c":5282,"d":5118,"e":5178,"f":5222},{"t":210,"a":5115,"b":5285,"c":5243,"d":5158,"e":5243,"f":5158},{"t":212.5,"a":5140,"b":5260,"c":5178,"d":5222,"e":5282,"f":5118},{"t":215,"a":5200,"b":5200,"c":5126,"d":5274,"e":5274,"f":5126},{"t":217.5,"a":5260,"b":5140,"c":5118,"d":5282,"e":5222,"f":5178},
{"t":220,"a":5285,"b":5115,"c":5158,"d":5243,"e":5158,"f":5243},{"t":222.5,"a":5260,"b":5140,"c":5222,"d":5178,"e":5118,"f":5282},{"t":225,"a":5200,"b":5200,"c":5274,"d":5126,"e":5126,"f":5274},{"t":227.5,"a":5140,"b":5260,"c":5282,"d":5118,"e":5178,"f":5222},{"t":230,"a":5115,"b":5285,"c":5243,"d":5158,"e":5243,"f":5158},{"t":232.5,"a":5140,"b":5260,"c":5178,"d":5222,"e":5282,"f":5118},{"t":235,"a":5200,"b":5200,"c":5126,"d":5274,"e":5274,"f":5126},{"t":237.5,"a":5260,"b":5140,"c":5118,"d":5282,"e":5222,"f":5178},
{"t":240,"a":5285,"b":5115,"c":5158,"d":5243,"e":5158,"f":5243},{"t":242.5,"a":5260,"b":5140,"c":5222,"d":5178,"e":5118,"f":5282},{"t":245,"a":5200,"b":5200,"c":5274,"d":5126,"e":5126,"f":5274},{"t":247.5,"a":5140,"b":5260,"c":5282,"d":5118,"e":5178,"f":5222},{"t":250,"a":5115,"b":5285,"c":5243,"d":5158,"e":5243,"f":5158},{"t":252.5,"a":5140,"b":5260,"c":5178,"d":5222,"e":5282,"f":5118},{"t":255,"a":5200,"b":5200,"c":5126,"d":5274,"e":5274,"f":5126},{"t":257.5,"a":5260,"b":5140,"c":5118,"d":5282,"e":5222,"f":5178},
{"t":260,"a":5285,"b":5115,"c":5158,"d":5243,"e":5158,"f":5243},{"t":262.5,"a":5260,"b":5140,"c":5222,"d":5178,"e":5118,"f":5282},{"t":265,"a":5200,"b":5200,"c":5274,"d":5126,"e":5126,"f":5274},{"t":267.5,"a":5140,"b":5260,"c":5282,"d":5118,"e":5178,"f":5222},{"t":270,"a":5115,"b":5285,"c":5243,"d":5158,"e":5243,"f":5158},{"t":272.5,"a":5140,"b":5260,"c":5178,"d":5222,"e":5282,"f":5118},{"t":275,"a":5200,"b":5200,"c":5126,"d":5274,"e":5274,"f":5126},{"t":277.5,"a":5260,"b":5140,"c":5118,"d":5282,"e":5222,"f":5178},
{"t":280,"a":5285,"b":5115,"c":5158,"d":5243,"e":5158,"f":5243},{"t":282.5,"a":5260,"b":5140,"c":5222,"d":5178,"e":5118,"f":5282},{"t":285,"a":5200,"b":5200,"c":5274,"d":5126,"e":5126,"f":5274},{"t":287.5,"a":5140,"b":5260,"c":5282,"d":5118,"e":5178,"f":5222},{"t":290,"a":5115,"b":5285,"c":5243,"d":5158,"e":5243,"f":5158},{"t":292.5,"a":5140,"b":5260,"c":5178,"d":5222,"e":5282,"f":5118},{"t":295,"a":5200,"b":5200,"c":5126,"d":5274,"e":5274,"f":5126},{"t":297.5,"a":5260,"b":5140,"c":5118,"d":5282,"e":5222,"f":5178},
{"t":300,"a":5285,"b":5115,"c":5158,"d":5243,"e":5158,"f":5243}
  ]},
   "transform": [{"fold": ["a", "b", "c", "d", "e", "f"], "as": ["k", "v"]}],
   "mark": {"type": "line", "interpolate": "catmull-rom", "strokeWidth": 1.3, "clip": true},
   "encoding": {
    "x": {"field": "t", "type": "quantitative", "scale": {"domain": [0, 300], "nice": false}, "axis": {"values": [0, 50, 100, 150, 200, 250, 300], "title": "Time (ms)", "titleFontSize": 22}},
    "y": {"field": "v", "type": "quantitative", "scale": {"domain": [4905, 5500], "nice": false, "zero": false}, "axis": {"values": [5000, 5200, 5400], "format": ",d", "title": "(V)"}},
    "color": {"field": "k", "type": "nominal", "scale": {"domain": ["a", "b", "c", "d", "e", "f"], "range": ["#1b9e77", "#d95f02", "#7570b3", "#e7298a", "#66a61e", "#e6ab02"]}, "legend": {"title": null, "legendX": 1, "legendY": -55, "labelExpr": "{'a':'vApΣ','b':'vAnΣ','c':'vBpΣ','d':'vBnΣ','e':'vCpΣ','f':'vCnΣ'}[datum.label]"}}
   }},
  {"data": {"values": [{"t": 150, "v": 5200}]}, "mark": {"type": "point", "opacity": 0},
   "encoding": {
    "x": {"field": "t", "type": "quantitative", "scale": {"domain": [0, 300], "nice": false}, "axis": {"orient": "top", "values": [0, 50, 100, 150, 200, 250, 300], "labels": false, "grid": false, "title": null}},
    "y": {"field": "v", "type": "quantitative", "scale": {"domain": [4905, 5500], "nice": false, "zero": false}, "axis": {"orient": "right", "values": [5000, 5200, 5400], "labels": false, "grid": false, "title": null}}
   }}
 ]}
]
}
